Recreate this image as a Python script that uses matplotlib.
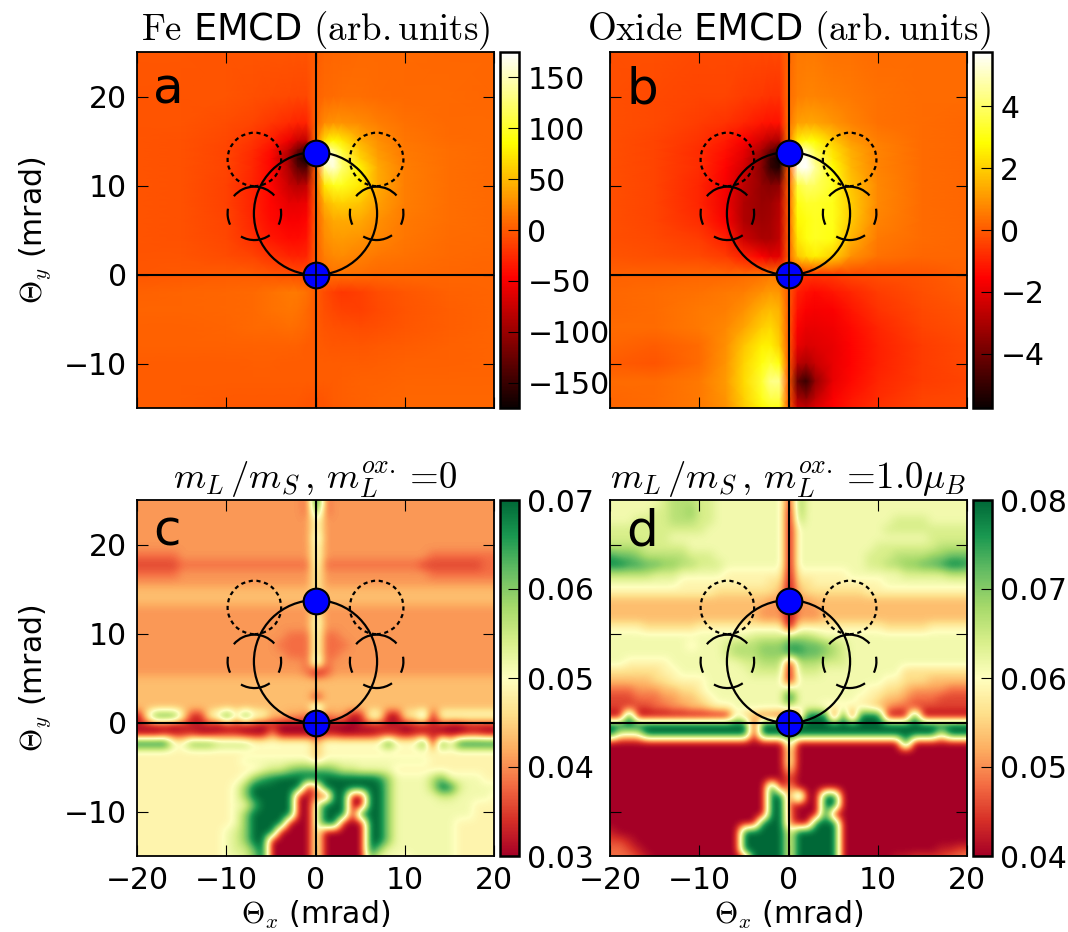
import numpy as np
import matplotlib
matplotlib.use('Agg')
import matplotlib.pyplot as plt
from matplotlib.patches import Circle, Arc

plt.rcParams['mathtext.fontset'] = 'cm'
plt.rcParams['font.size'] = 21
plt.rcParams['xtick.direction'] = 'in'
plt.rcParams['ytick.direction'] = 'in'
plt.rcParams['xtick.top'] = True
plt.rcParams['ytick.right'] = True
plt.rcParams['xtick.major.size'] = 8
plt.rcParams['ytick.major.size'] = 8
plt.rcParams['lines.scale_dashes'] = False
plt.rcParams['axes.linewidth'] = 1.3

# EMCD maps: on a grid that is finer around the peaks
emcd_x = [-20, -15, -10, -7, -5, -3, -2, -1, 0, 1, 2, 3, 5, 7, 10, 15, 20]
emcd_y = [25, 20, 17, 15, 14, 13, 12, 10, 8, 6, 4, 2, 0, -2, -4, -6, -8, -10, -12, -14, -15]

fe_emcd = [
    [-2, -2, -3, -3, -3, -3, -3, -3, 1, 5, 6, 6, 7, 7, 7, 6, 6],
    [-3, -3, -4, -6, -8, -9, -10, -10, 3, 8, 9, 10, 10, 9, 8, 7, 6],
    [-3, -4, -7, -12, -18, -25, -30, -30, 5, 25, 30, 30, 25, 18, 12, 8, 7],
    [-3, -5, -10, -20, -32, -55, -75, -80, 10, 70, 85, 75, 45, 28, 15, 9, 7],
    [-3, -5, -11, -24, -40, -80, -120, -150, 10, 150, 130, 100, 55, 32, 16, 10, 7],
    [-3, -5, -12, -26, -45, -95, -150, -175, 0, 175, 165, 120, 65, 36, 17, 10, 7],
    [-3, -5, -12, -27, -45, -90, -130, -140, 0, 140, 160, 125, 80, 42, 18, 10, 7],
    [-3, -5, -13, -30, -45, -75, -85, -80, 0, 75, 95, 95, 75, 42, 18, 10, 7],
    [-3, -5, -13, -30, -45, -60, -60, -55, 0, 45, 58, 62, 55, 36, 18, 10, 7],
    [-3, -5, -12, -28, -42, -50, -50, -45, 0, 30, 40, 42, 40, 28, 16, 10, 7],
    [-3, -5, -10, -22, -35, -42, -42, -38, 0, 25, 32, 34, 30, 22, 14, 9, 7],
    [-3, -4, -7, -12, -20, -28, -30, -28, 0, 18, 24, 25, 20, 15, 11, 8, 6],
    [-2, -1, 0, 0, -2, -5, -8, -8, 0, 10, 12, 12, 10, 8, 7, 6, 5],
    [4, 5, 6, 8, 12, 16, 16, 12, 2, -8, -15, -18, -14, -8, -2, 3, 5],
    [5, 5, 6, 8, 12, 14, 13, 8, 0, -6, -10, -13, -14, -9, -3, 2, 5],
    [4, 4, 5, 7, 8, 10, 9, 6, 0, -3, -5, -6, -8, -6, -2, 2, 5],
    [3, 3, 3, 4, 4, 4, 3, 1, 0, -1, -2, -2, -2, -1, 1, 3, 5],
    [1, 1, 1, 2, 2, 1, 1, 0, 0, 1, 1, 1, 1, 2, 3, 4, 5],
    [0, 0, 0, 0, 0, 0, 0, 0, 0, 1, 1, 2, 3, 4, 5, 5, 5],
    [1, 0, -1, -1, -1, -1, -1, -2, -3, -2, 0, 2, 4, 5, 6, 6, 6],
    [2, 0, -2, -2, -2, -2, -2, -4, -4, -3, -1, 1, 3, 5, 6, 6, 6],
]

oxide_emcd = [
    [-.2, -.2, -.3, -.3, -.3, -.3, -.3, -.3, .2, .5, .5, .5, .4, .4, .3, .3, .3],
    [-.2, -.3, -.4, -.4, -.5, -.6, -.7, -.7, .3, .6, .7, .7, .6, .5, .4, .3, .3],
    [-.2, -.3, -.5, -.7, -.9, -1.2, -1.3, -1.3, .4, 1.2, 1.3, 1.3, 1, .7, .4, .3, .2],
    [-.2, -.4, -.7, -1.1, -1.6, -2.3, -2.8, -3, .5, 2.6, 3, 2.8, 1.9, 1.1, .6, .3, .2],
    [-.2, -.4, -.8, -1.3, -1.9, -3, -4, -4.8, .5, 4.8, 4.6, 3.5, 2.3, 1.4, .7, .3, .2],
    [-.2, -.4, -.8, -1.4, -2.1, -3.5, -5, -5.76, 0, 5.76, 5.6, 4.2, 2.5, 1.5, .7, .3, .2],
    [-.2, -.4, -.8, -1.5, -2.3, -3.6, -5, -5.4, 0, 5.4, 5.76, 4.6, 2.8, 1.6, .7, .3, .2],
    [-.2, -.4, -.9, -1.7, -2.7, -3.4, -3.6, -3.5, 0, 3.5, 4, 3.9, 3.2, 1.8, .8, .3, .2],
    [-.2, -.4, -.9, -1.8, -2.9, -3.3, -3.2, -2.8, 0, 3, 3.3, 3.3, 3.1, 2, .8, .3, .2],
    [-.2, -.4, -.8, -1.6, -2.9, -3.2, -3.1, -2.7, 0, 2.7, 3, 3.2, 3.1, 1.9, .7, .3, .2],
    [-.2, -.3, -.5, -1, -2.4, -3, -3, -2.6, 0, 2.4, 3, 3.2, 3, 1.5, .5, .3, .2],
    [-.1, -.2, -.3, -.5, -1, -1.6, -2, -2, 0, 1.8, 2.3, 2.6, 2, .9, .4, .2, .2],
    [.1, .1, .2, .2, .3, .4, .5, .5, 0, -.5, -.6, -.6, -.5, -.3, -.2, -.1, .1],
    [.2, .3, .4, .5, .6, .9, 1.1, 1, 0, -1, -1.3, -1.4, -1.2, -.9, -.5, -.2, 0],
    [.2, .3, .5, .6, .9, 1.5, 1.7, 1.5, 0, -1.3, -1.6, -1.7, -1.6, -1.2, -.7, -.3, -.1],
    [.3, .3, .5, .8, 1.3, 2, 2.2, 1.7, 0, -1.6, -1.9, -1.9, -1.8, -1.4, -.9, -.4, -.2],
    [.2, 0, .3, .9, 1.8, 2.6, 2.6, 2, 0, -1.9, -2.2, -2.1, -1.9, -1.5, -1, -.5, -.3],
    [0, -.1, .3, 1, 2.1, 3, 3.4, 3, 0, -2.7, -3, -2.5, -1.9, -1.5, -1, -.5, -.3],
    [.3, .3, .5, 1.1, 2.2, 3.4, 4.4, 4.4, 0, -4.2, -5, -3.4, -1.9, -1.4, -.9, -.5, -.4],
    [.2, .3, .5, 1, 2, 3.1, 3.6, 3.6, 0, -3, -3.4, -2.6, -1.6, -1.2, -.8, -.4, -.3],
    [.2, .3, .5, .9, 1.9, 2.7, 3.1, 3.1, 0, -2.4, -2.6, -2.1, -1.5, -1.1, -.7, -.4, -.3],
]

# ratio maps: one hex digit per 1 mrad cell, 0 = bottom of the colour range, f = top
# columns x = -20..20, rows y = 25..-15
ratio_c_rows = [
    '4444444444 4444444443 f 3444444444 4444444444',
    '4444444444 4444444443 c 3444444444 4444444444',
    '4444444444 4444444444 8 4444444444 4444444444',
    '4444444444 4444444444 8 4444444444 4444444444',
    '4444444444 4444444444 9 4444444444 4444444444',
    '4444444444 4444444444 8 4444444444 4444444444',
    '3333344444 4444444444 8 4444444444 4433333333',
    '2222233333 3333333333 8 3333333333 3222222233',
    '3333344444 4444444444 7 4444444444 4433333333',
    '4444444444 4444444444 7 4444444444 4444444444',
    '5555555555 5555555555 6 5555555555 5555555555',
    '5555555555 5555555555 6 5555555555 5555555555',
    '4444444444 4444444444 6 4444444444 4444444444',
    '4444444444 4444444444 8 4444444444 4444444444',
    '4444444444 4444444444 8 4444444444 4444444444',
    '4444444444 4444444333 8 3344444444 4444444444',
    '4444444444 4444443333 8 3334444444 4444444444',
    '4444444444 4444444333 8 3344444444 4444444444',
    '4444444444 4444444443 a 3444444444 4444444444',
    '4444444444 4444444443 0 2444444444 4444444444',
    '5555555555 5555555555 5 5555555555 5555555555',
    '5555555555 5555555555 5 5555555555 5555555555',
    '5555555555 5555555555 1 5555555555 5555555555',
    '5555555555 5555555555 b 5555555555 5555555555',
    '07ddd71179 e7d8855443 3 3440188007 7b08888888',
    '1111011110 1111010000 0 0000111110 1111001111',
    '0001111001 1100040000 0 1100001110 1110001100',
    'ffff88ccca aaa8888888 5 8888888e88 8e0e8fffff',
    '7777777777 7777777777 5 7777777777 7777777777',
    '7777777777 7788888888 6 8888888888 8877777777',
    '7777777777 7777899bcc c cb99888877 7777777777',
    '7777777777 778bdeffff f ffffffeb88 88ac888877',
    '7777777777 78bffffff0 4 fffffffb88 88afe98888',
    '7777777777 78bfffff00 4 0ff00ffb88 8889988887',
    '7777777777 788cffff00 8 fff00ffb88 8888888777',
    '7777777777 78bfffff00 8 fff0fffb88 8888888777',
    '7777777777 78bffff000 8 ff000ffb88 8888877777',
    '7777777777 89bfff0000 8 00000ffb88 8888877777',
    '7777777777 89bff00000 8 00000ffb88 8888877777',
    '7777777777 899cf00000 8 00000fb888 8888877777',
    '7777777777 889bf00000 8 00000b8887 8888877777',
]

ratio_d_rows = [
    '8888889aaa 9988888888 1 b888888888 8888888888',
    '8888899aab 9988888888 0 b888888888 8888888888',
    '8889999aaa 9988888888 0 a888888888 8999988888',
    '9999999999 9888888888 0 8888888888 9999999999',
    '9999999888 8888888888 0 8888888888 8888899999',
    'aaaa999998 8888888888 0 8888888889 999999aaaa',
    'dccbaaaaa9 9988888888 0 8888888899 9aaaabbccc',
    'eeddccbbaa 9998888888 0 8888888899 aabbccdeed',
    'aaaaa99988 8887777777 0 7777778888 8899999aaa',
    '8888888877 7777777766 0 6677777777 8888888888',
    '7777777777 7766666665 0 5666666677 7777777777',
    '5555555555 5555555544 0 4455555555 5555555555',
    '5555555555 5555555444 0 4445555555 5555555555',
    '5555555555 5555555444 0 4445555555 5555555555',
    '7777666666 7777777777 0 7777777777 6666677777',
    '8888888888 8888889999 a aa98888888 8888888888',
    '8888888887 8889aaabbb d dccba98888 8888888888',
    '8888888888 8889aaabbb d dccba98888 8888888888',
    '8877777888 8888899aaa 0 aaa9998888 8888888888',
    '6666667788 8888889999 0 9998888888 8866666666',
    '5555566777 7888888888 0 8888888888 7766655555',
    '3334445566 7888888888 a 8888888877 6654444333',
    '2223334455 6788888888 f 8888888776 5543332222',
    '2222233445 5677888888 8 8887777765 4332222222',
    '00f0000000 0000855332 3 2fff0f0fff 000f000000',
    'ffffffffff ffffff0fff f ffffffffff ffffffffff',
    'f888ffffff ffffff0fff f ffffffffff ffffff8fff',
    '0000000000 0000000000 a 0000000000 00f0000000',
    '0000000000 0000000000 7 0000000000 0000000000',
    '0000000000 0000000000 8 0000000000 0000000000',
    '0000000000 0000000000 6 0000000000 0000000000',
    '0000000000 0000000000 2 0000000000 0000000000',
    '0000000000 00000000f0 5 0000000000 0000000000',
    '0000000000 00000000ff 2 f00ff00000 0000000000',
    '0000000000 00000000ff 2 000ff00000 0000000000',
    '0000000000 00000000ff 3 000f000000 0000000000',
    '0000000000 0000000fff 3 00fff00000 0000000000',
    '1000000000 00000fffff 8 fffff00000 0000000000',
    '2210000000 00000fffff 8 fffff00000 0000000000',
    '3321000000 00000fffff 8 fffff00000 0000001122',
    '3332100000 000000ffff 8 fffff00000 0112222334',
]

emcd_ticks_a = [-150, -100, -50, 0, 50, 100, 150]
emcd_ticks_b = [-4, -2, 0, 2, 4]
ratio_ticks_c = [0.03, 0.04, 0.05, 0.06, 0.07]
ratio_ticks_d = [0.04, 0.05, 0.06, 0.07, 0.08]


def decode_rows(rows, vmin, vmax):
    # hex digit to value
    cells = [[int(ch, 16) for ch in row.replace(' ', '')] for row in rows]
    return vmin + np.array(cells) / 15.0 * (vmax - vmin)


def add_overlay(ax):
    ax.axhline(0, color='k', lw=1.5, zorder=3)
    ax.axvline(0, color='k', lw=1.5, zorder=3)
    ax.add_patch(Circle((0, 6.85), 6.9, fill=False, ec='k', lw=1.6, zorder=3))
    for sx in [-6.85, 6.85]:
        ax.add_patch(Circle((sx, 12.93), 3.0, fill=False, ec='k', lw=1.6,
                            linestyle=(0, (3, 2.6)), zorder=3))
        for t1, t2 in [(-25, 10), (42, 140), (170, 205), (240, 305)]:
            ax.add_patch(Arc((sx, 6.87), 6.0, 6.0, theta1=t1, theta2=t2,
                             ec='k', lw=1.6, zorder=3))
    ax.plot([0, 0], [0, 13.7], ls='none', marker='o', ms=18.5, mfc='#0000ff',
            mec='k', mew=1.5, zorder=4, clip_on=False)
    ax.plot([0], [0], ls='none', marker='+', ms=19, mec='k', mew=1.2, zorder=5)


def finish_axes(ax, letter, title, xlab, ylab, letter_y):
    ax.set_xlim(-20, 20)
    ax.set_ylim(-15, 25)
    ax.set_xticks([-20, -10, 0, 10, 20])
    ax.set_yticks([-10, 0, 10, 20])
    ax.tick_params(labelsize=21.5, pad=7)
    ax.text(-18.2, letter_y, letter, fontsize=36, color='k', va='baseline', zorder=6)
    ax.set_title(title, fontsize=26.5, pad=5)
    if xlab:
        ax.set_xlabel(r'$\Theta_x$ (mrad)', fontsize=21.5, labelpad=3)
    else:
        ax.set_xticklabels([])
    if ylab:
        ax.set_ylabel(r'$\Theta_y$ (mrad)', fontsize=21.5, labelpad=8)
    else:
        ax.set_yticklabels([])


def add_cbar(fig, im, px, py, ticks, labels=None):
    cax = fig.add_axes([px / 1068, 1 - (py + 356) / 932, 19 / 1068, 356 / 932])
    cb = fig.colorbar(im, cax=cax, ticks=ticks)
    cb.ax.tick_params(labelsize=21.5, direction='in', length=8, right=True, left=False, pad=6)
    cb.outline.set_linewidth(1.8)
    if labels:
        cb.ax.set_yticklabels(labels)


def panel_rect(px, py):
    return [px / 1068, 1 - (py + 356) / 932, 357 / 1068, 356 / 932]


fig = plt.figure(figsize=(10.68, 9.32), dpi=100)

# a
ax_a = fig.add_axes(panel_rect(137, 52))
im_a = ax_a.pcolormesh(emcd_x, emcd_y, np.array(fe_emcd), cmap='hot', vmin=-175, vmax=175,
                       shading='gouraud')
add_overlay(ax_a)
finish_axes(ax_a, 'a', r'$\mathrm{Fe}$ EMCD $\mathrm{(arb{.}units)}$', False, True, 19.2)
add_cbar(fig, im_a, 500, 52, emcd_ticks_a)

# b
ax_b = fig.add_axes(panel_rect(610, 52))
im_b = ax_b.pcolormesh(emcd_x, emcd_y, np.array(oxide_emcd), cmap='hot', vmin=-5.76, vmax=5.76,
                       shading='gouraud')
add_overlay(ax_b)
finish_axes(ax_b, 'b', r'$\mathrm{Oxide}$ EMCD $\mathrm{(arb{.}units)}$', False, False, 19.2)
add_cbar(fig, im_b, 973, 52, emcd_ticks_b)

# c
ax_c = fig.add_axes(panel_rect(137, 500))
im_c = ax_c.imshow(decode_rows(ratio_c_rows, 0.03, 0.07), cmap='RdYlGn', vmin=0.03, vmax=0.07,
                   extent=[-20.35, 20.65, -15.8, 25.2], interpolation='bicubic', aspect='auto')
add_overlay(ax_c)
finish_axes(ax_c, 'c', r'$m_L\,/m_S\,,\,m_L^{ox{.}}=\!0$', True, True, 19.9)
add_cbar(fig, im_c, 500, 500, ratio_ticks_c, ['0.03', '0.04', '0.05', '0.06', '0.07'])

# d
ax_d = fig.add_axes(panel_rect(610, 500))
im_d = ax_d.imshow(decode_rows(ratio_d_rows, 0.04, 0.08), cmap='RdYlGn', vmin=0.04, vmax=0.08,
                   extent=[-20.35, 20.65, -15.8, 25.2], interpolation='bicubic', aspect='auto')
add_overlay(ax_d)
finish_axes(ax_d, 'd', r'$m_L\,/m_S\,,\,m_L^{ox{.}}=\!1.0\mu_B$', True, False, 19.9)
add_cbar(fig, im_d, 973, 500, ratio_ticks_d, ['0.04', '0.05', '0.06', '0.07', '0.08'])

fig.savefig('out.png', dpi=100)
